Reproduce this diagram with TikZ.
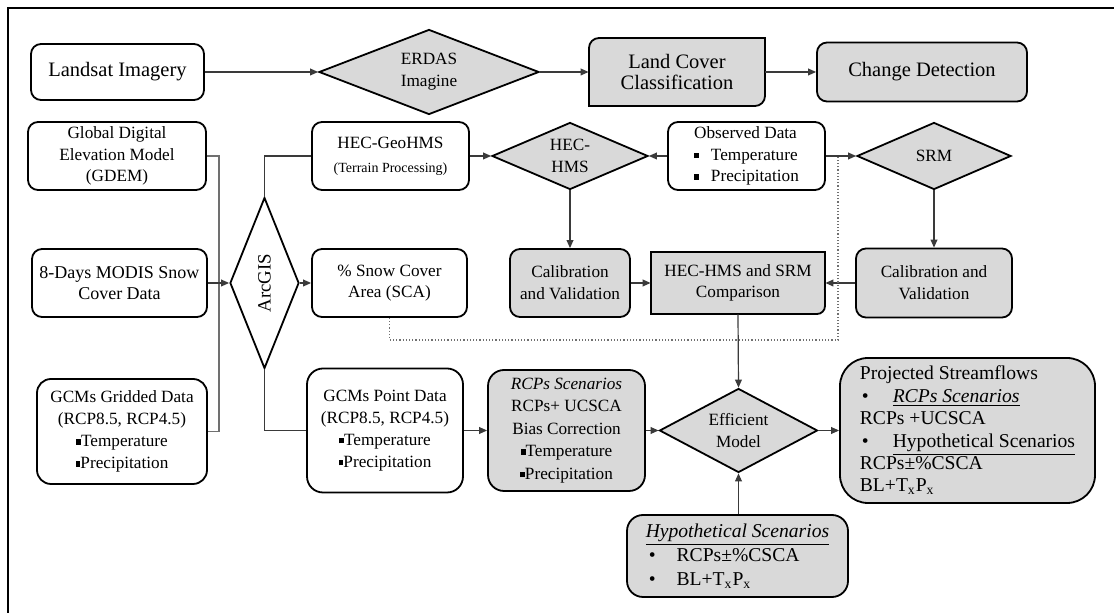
\documentclass[tikz,border=0pt]{standalone}
\usepackage{fontspec}
\setmainfont{Liberation Serif}
\usepackage{graphicx}
\usetikzlibrary{shapes.geometric,arrows.meta}
\definecolor{grayf}{HTML}{D9D9D9}
\definecolor{lnk}{HTML}{3A3A3A}
\definecolor{lnkl}{HTML}{707070}
\newcommand\sqb{\raisebox{0.12em}{\rule{0.28em}{0.32em}}}
\newcommand\fA{\fontsize{10.25}{10.85}\selectfont}
\newcommand\fB{\fontsize{8.6}{10.85}\selectfont}
\newcommand\fC{\fontsize{7}{8.5}\selectfont}
\newcommand\fM{\fontsize{9}{10.85}\selectfont}
\newcommand\fG{\fontsize{8.6}{11}\selectfont}
\newcommand\fR{\fontsize{8.6}{11.2}\selectfont}
\newcommand\fP{\fontsize{9.8}{11.2}\selectfont}
\newcommand\fH{\fontsize{9.8}{12}\selectfont}
\begin{document}
\begin{tikzpicture}[x=0.5pt,y=-0.5pt,
  box/.style={draw, fill=white, line width=0.9pt, rounded corners=5pt, align=center, inner sep=0pt, font=\fB},
  gbox/.style={box, fill=grayf},
  dia/.style={diamond, draw, fill=grayf, line width=0.9pt, inner sep=0pt, align=center, font=\fB},
  arr/.style={-{Triangle[length=4pt,width=3.4pt]}, line width=0.6pt, draw=lnk},
  conn/.style={line width=0.6pt, draw=lnk},
  connl/.style={line width=0.6pt, draw=lnkl},
  dotline/.style={line width=0.6pt, draw=lnkl, densely dotted}]
\useasboundingbox (0,0) rectangle (1114,613);
\clip (0,0) rectangle (1114,613);
% frame
\draw[line width=1pt] (7.5,640) -- (7.5,8) -- (1140,8);

% top row
\node[box, minimum width=86.5pt, minimum height=28pt, font=\fA] (landsat) at (117.5,72) {Landsat Imagery};
\node[dia, aspect=2.6, minimum width=110pt, minimum height=42.5pt] (erdas) at (429,72) {ERDAS\\Imagine};
\draw[line width=0.9pt, fill=grayf] (589,106) -- (589,48) .. controls (589,42.5) and (593.5,38) .. (599,38) -- (765,38) -- (765,96) .. controls (765,101.5) and (760.5,106) .. (755,106) -- cycle;
\node[align=center, inner sep=0pt, minimum width=88pt, minimum height=34pt, font=\fA] (lcc) at (677,72) {Land Cover\\Classification};
\node[gbox, minimum width=105pt, minimum height=29.5pt, font=\fA] (cd) at (922,72) {Change Detection};

% second row
\node[box, minimum width=89pt, minimum height=34pt] (gdem) at (117,156) {Global Digital\\Elevation Model\\(GDEM)};
\node[box, minimum width=78.5pt, minimum height=34pt] (geohms) at (390.5,156) {HEC-GeoHMS\\[1pt]{\fC(Terrain Processing)}};
\node[dia, aspect=2.3, minimum width=78pt, minimum height=33.5pt] (hms) at (570,156) {HEC-\\HMS};
\node[box, minimum width=78.5pt, minimum height=34pt, align=left] (obs) at (746.5,156) {Observed Data\\\sqb\hspace{6pt}Temperature\\\sqb\hspace{6pt}Precipitation};
\node[dia, aspect=2.3, minimum width=77pt, minimum height=33.5pt] (srm) at (934,156) {SRM};

% third row
\node[box, minimum width=87.5pt, minimum height=34pt, font=\fM] (modis) at (119.5,283) {8-Days MODIS Snow\\Cover Data};
\node[dia, fill=white, aspect=0.4, minimum width=34.5pt, minimum height=85.5pt, font=\fontsize{9.4}{11}\selectfont] (arcgis) at (264.5,283) {\rotatebox{90}{ArcGIS}};
\node[box, minimum width=77.5pt, minimum height=34pt] (sca) at (389.5,283) {\% Snow Cover\\Area (SCA)};
\node[gbox, minimum width=60pt, minimum height=34pt] (cal1) at (570,283) {Calibration\\and Validation};
\draw[line width=0.9pt, fill=grayf] (651,252) -- (825,252) -- (825,306) .. controls (825,310.4) and (821.4,314) .. (817,314) -- (651,314) -- cycle;
\node[align=center, inner sep=0pt, minimum width=87pt, minimum height=31pt, font=\fB] (comp) at (738,283) {HEC-HMS and SRM\\Comparison};
\node[gbox, minimum width=78pt, minimum height=34.5pt] (cal2) at (934,283) {Calibration and\\Validation};

% fourth row
\node[box, rounded corners=7pt, minimum width=85pt, minimum height=52.5pt, font=\fG] (gridded) at (122,431.5) {GCMs Gridded Data\\(RCP8.5, RCP4.5)\\\sqb Temperature\\\sqb Precipitation};
\node[box, rounded corners=8pt, minimum width=78pt, minimum height=62pt, font=\fG] (point) at (385,430.5) {GCMs Point Data\\(RCP8.5, RCP4.5)\\\sqb Temperature\\\sqb Precipitation};
\node[gbox, rounded corners=8pt, minimum width=78.5pt, minimum height=60.5pt, font=\fR] (rcps) at (566.5,430.5) {\textit{RCPs Scenarios}\\RCPs+ UCSCA\\Bias Correction\\\sqb Temperature\\\sqb Precipitation};
\node[dia, aspect=1.9, minimum width=79pt, minimum height=42pt] (eff) at (738.5,430.5) {Efficient\\Model};
\node[gbox, rounded corners=14pt, minimum width=127.5pt, minimum height=72.5pt, align=left, font=\fP] (proj) at (967.5,430.5) {Projected Streamflows\\\hspace{1pt}\textbullet\hspace{12pt}\underline{\textit{RCPs Scenarios}}\\RCPs +UCSCA\\\hspace{1pt}\textbullet\hspace{12pt}\underline{Hypothetical Scenarios}\\RCPs±\%CSCA\\BL+T\textsubscript{x}P\textsubscript{x}};
\node[gbox, rounded corners=8pt, minimum width=110.5pt, minimum height=41pt, align=left, font=\fH] (hypo) at (737.5,556) {\underline{\textit{Hypothetical Scenarios}}\\\hspace{1.5pt}\textbullet\hspace{10.5pt}RCPs±\%CSCA\\\hspace{1.5pt}\textbullet\hspace{10.5pt}BL+T\textsubscript{x}P\textsubscript{x}};

% connectors
\draw[arr] (landsat.east) -- (erdas.west);
\draw[arr] (erdas.east) -- (lcc.west);
\draw[arr] (lcc.east) -- (cd.west);
\coordinate (bb) at (219,431.5);
\draw[connl] (gdem.east) -| (bb) -- (gridded.east);
\draw[arr] (modis.east) -- (arcgis.west);
\draw[conn] (arcgis.north) |- (geohms.west);
\draw[conn] (arcgis.south) |- (point.west);
\draw[arr] (arcgis.east) -- (sca.west);
\draw[arr] (geohms.east) -- (hms.west);
\draw[arr] (obs.west) -- (hms.east);
\draw[arr] (obs.east) -- (srm.west);
\draw[arr] (hms.south) -- (cal1.north);
\draw[arr] (srm.south) -- (cal2.north);
\draw[arr] (cal1.east) -- (comp.west);
\draw[arr] (cal2.west) -- (comp.east);
\draw[arr] (comp.south) -- (eff.north);
\draw[arr] (point.east) -- (rcps.west);
\draw[arr] (rcps.east) -- (eff.west);
\draw[arr] (eff.east) -- (proj.west);
\draw[arr] (hypo.north -| eff.south) -- (eff.south);
\coordinate (dd) at (838,340);
\draw[dotline] (sca.south) |- (dd) -- (dd |- obs.east);
\end{tikzpicture}
\end{document}
